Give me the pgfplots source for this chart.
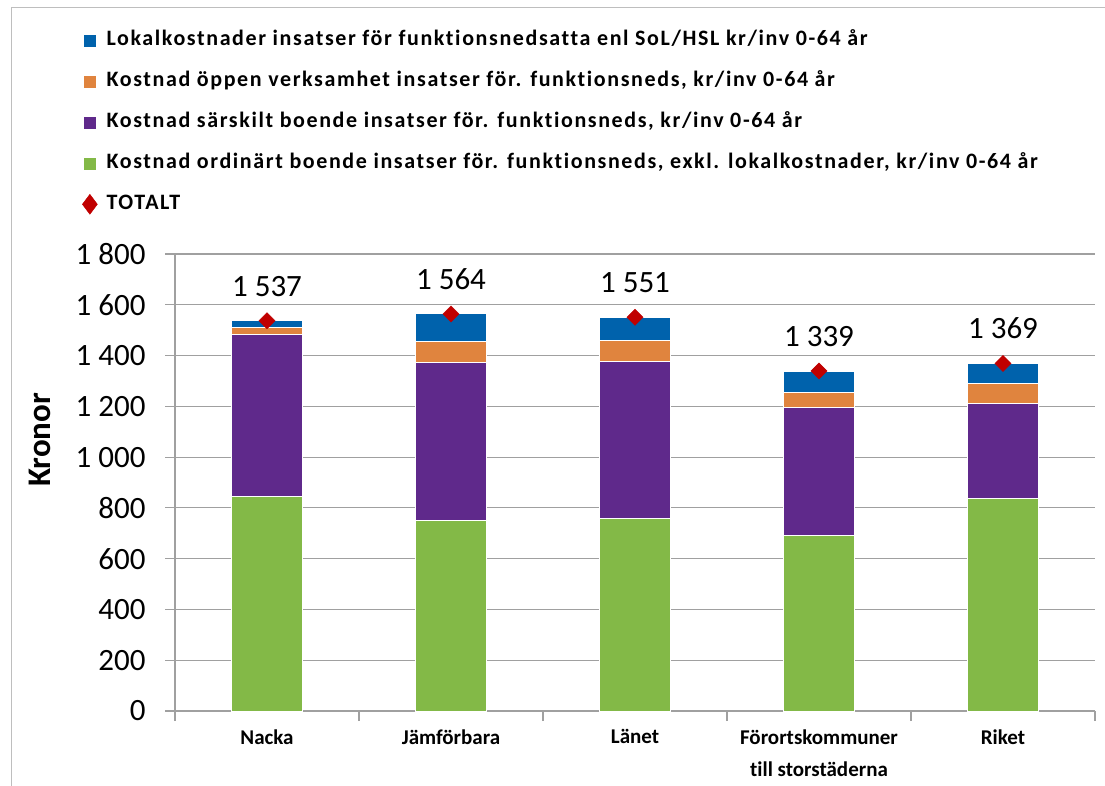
\documentclass[border=0pt]{standalone}
\usepackage{pgfplots}
\pgfplotsset{compat=1.18}
\usepackage{pgfplotstable}
\usepackage{fontspec}
\setmainfont{Carlito}[Ligatures={NoCommon}]
\newfontfamily\legfont{Carlito}[LetterSpace=7.3, Ligatures={NoCommon}]
\definecolor{cblue}{RGB}{0,98,172}
\definecolor{corange}{RGB}{224,132,62}
\definecolor{cpurple}{RGB}{95,41,139}
\definecolor{cgreen}{RGB}{131,185,71}
\definecolor{cred}{RGB}{192,0,0}
\definecolor{gridgrey}{RGB}{160,160,160}
\definecolor{framegrey}{RGB}{190,190,190}
\pgfplotstableread{
x green purple orange blue total
0 846 637 29 25 1537
1 752 620 84 108 1564
2 758 620 80 93 1551
3 692 504 58 85 1339
4 836 376 76 81 1369
}\datatable
\begin{document}
\begin{tikzpicture}
\useasboundingbox (0pt,0pt) rectangle (1105pt,-786pt);
\draw[framegrey, line width=1pt] (11pt,-786pt) -- (11pt,-8pt) -- (1105pt,-8pt);
\begin{axis}[
  at={(175pt,-711pt)}, anchor=south west,
  scale only axis, width=920pt, height=457pt,
  ybar stacked, bar width=71pt,
  xmin=-0.5, xmax=4.5, ymin=0, ymax=1800,
  ytick={0,200,...,1800},
  xtick={-0.5,0.5,...,4.5}, xticklabels={\empty,\empty,\empty,\empty,\empty,\empty},
  extra x ticks={0,1,2,3,4},
  extra x tick labels={Nacka,Jämförbara,Länet,{Förortskommuner\\till storstäderna},Riket},
  extra x tick style={major tick length=0pt, ticklabel style={align=center, font=\bfseries\fontsize{21}{32}\selectfont, anchor=north, yshift=-15pt}},
  ymajorgrids, grid style={gridgrey, line width=1.2pt},
  axis x line*=bottom, axis y line*=left,
  axis line style={gridgrey, line width=1.2pt},
  tick style={gridgrey, line width=1.2pt},
  tick align=outside, major tick length=10pt,
  yticklabel style={font=\fontsize{31}{36}\selectfont, xshift=-16pt},
  /pgf/number format/.cd, 1000 sep={\ }, assume math mode=true, /pgfplots/.cd,
  ylabel={Kronor},
  ylabel style={font=\bfseries\fontsize{33}{38}\selectfont, at={(axis description cs:-0.147,0.593)}, anchor=center},
  legend style={at={(axis description cs:-0.1011,1.491)}, anchor=north west, draw=none, fill=none,
    font=\legfont\bfseries\fontsize{22}{26}\selectfont, inner sep=0pt, row sep=20pt,
    nodes={inner xsep=9pt, inner ysep=0pt, text height=16pt, text depth=5pt}},
  legend cell align=left,
]
\addlegendimage{legend image code/.code={\fill[cblue] (0pt,-5.5pt) rectangle (11pt,5.5pt);}}
\addlegendentry{Lokalkostnader insatser för funktionsnedsatta enl SoL/HSL kr/inv 0-64 år}
\addlegendimage{legend image code/.code={\fill[corange] (0pt,-5.5pt) rectangle (11pt,5.5pt);}}
\addlegendentry{Kostnad öppen verksamhet insatser för. funktionsneds, kr/inv 0-64 år}
\addlegendimage{legend image code/.code={\fill[cpurple] (0pt,-5.5pt) rectangle (11pt,5.5pt);}}
\addlegendentry{Kostnad särskilt boende insatser för. funktionsneds, kr/inv 0-64 år}
\addlegendimage{legend image code/.code={\fill[cgreen] (0pt,-5.5pt) rectangle (11pt,5.5pt);}}
\addlegendentry{Kostnad ordinärt boende insatser för. funktionsneds, exkl. lokalkostnader, kr/inv 0-64 år}
\addlegendimage{legend image code/.code={\fill[cred] (5.5pt,10pt) -- (13pt,0pt) -- (5.5pt,-10pt) -- (-2pt,0pt) -- cycle;}}
\addlegendentry{TOTALT}
\addplot[fill=cgreen, draw=white, line width=1pt] table[x=x,y=green]{\datatable};
\addplot[fill=cpurple, draw=white, line width=1pt] table[x=x,y=purple]{\datatable};
\addplot[fill=corange, draw=white, line width=1pt] table[x=x,y=orange]{\datatable};
\addplot[fill=cblue, draw=white, line width=1pt] table[x=x,y=blue]{\datatable};
\end{axis}
\begin{axis}[
  at={(175pt,-711pt)}, anchor=south west,
  scale only axis, width=920pt, height=457pt,
  xmin=-0.5, xmax=4.5, ymin=0, ymax=1800,
  hide axis, clip=false,
  /pgf/number format/.cd, 1000 sep={\ }, assume math mode=true, /pgfplots/.cd,
  nodes near coords, point meta=y,
  nodes near coords style={font=\fontsize{31}{36}\selectfont, anchor=south, inner sep=0pt, yshift=24pt, text=black},
]
\addplot[only marks, mark=square*, mark size=5.7pt, mark options={rotate=45, fill=cred, draw=cred}] table[x=x,y=total]{\datatable};
\end{axis}
\end{tikzpicture}
\end{document}
